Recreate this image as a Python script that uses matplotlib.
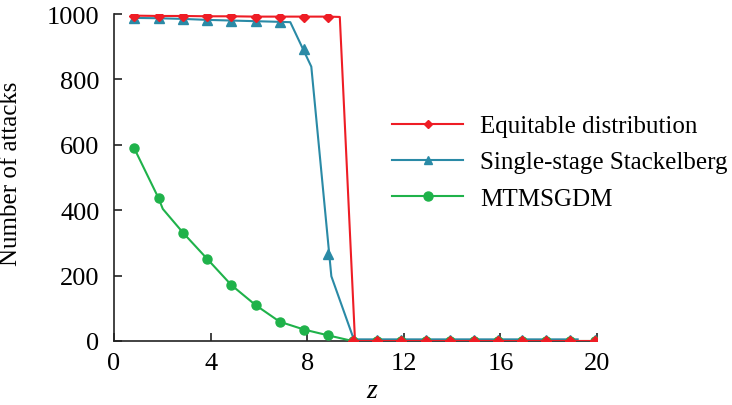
import numpy as np
import matplotlib
matplotlib.use("Agg")
import matplotlib.pyplot as plt
from matplotlib.lines import Line2D

plt.rcParams['font.family'] = ['Liberation Serif', 'DejaVu Serif']
plt.rcParams['mathtext.fontset'] = 'custom'
plt.rcParams['mathtext.it'] = 'Liberation Serif:italic'

# marker positions along z
marker_z = [0.84, 1.85, 2.86, 3.86, 4.86, 5.86, 6.86, 7.87, 8.88, 9.88,
            10.89, 11.89, 12.9, 13.9, 14.9, 15.9, 16.9, 17.9, 18.9, 19.9]

# Equitable distribution
equit_marks = [995, 994, 994, 993, 993, 992, 992, 992, 992, 0,
               0, 0, 0, 0, 0, 0, 0, 0, 0, 0]
equit_line_z = [0.84, 1.85, 2.86, 3.86, 4.86, 5.86, 6.86, 7.87, 8.88, 9.35, 9.98, 19.9]
equit_line_v = [995, 994, 994, 993, 993, 992, 992, 992, 992, 991, 0, 0]

# Single-stage Stackelberg
stack_marks = [988, 987, 985, 982, 980, 978, 976, 893, 266, 4,
               4, 4, 4, 4, 4, 4, 4, 4, 4, 4]
stack_line_z = [0.84, 1.85, 2.86, 3.86, 4.86, 5.86, 6.86, 7.3, 8.17, 9.0, 9.93, 19.2]
stack_line_v = [988, 987, 985, 982, 980, 978, 976, 975, 839, 198, 5, 5]

# MTMSGDM
mtm_marks = [589, 436, 331, 251, 171, 110, 59, 35, 17, 0,
             0, 0, 0, 0, 0, 0, 0, 0, 0, 0]
mtm_line_z = [0.84, 1.85, 2.02, 2.86, 3.86, 4.86, 5.86, 6.86, 7.87, 8.88, 9.88, 19.9]
mtm_line_v = [589, 436, 404, 331, 251, 171, 110, 59, 35, 17, 0, 0]

c_red = '#ee1d25'
c_blue = '#2a8aa6'
c_green = '#1fb24a'

fig = plt.figure(figsize=(7.32, 4.06), dpi=100)
ax = fig.add_axes([114/732, 1 - 342/406, (597 - 114)/732, (342 - 15)/406])

lw = 1.5
# blue first, green, red on top
ax.plot(stack_line_z, stack_line_v, color=c_blue, lw=lw, zorder=2)
ax.plot(marker_z, stack_marks, ls='none', marker='^', ms=6.5, color=c_blue, zorder=2)
ax.plot(mtm_line_z, mtm_line_v, color=c_green, lw=lw, zorder=3)
ax.plot(marker_z, mtm_marks, ls='none', marker='o', ms=6.5, color=c_green, zorder=3)
ax.plot(equit_line_z, equit_line_v, color=c_red, lw=lw, zorder=4)
ax.plot(marker_z, equit_marks, ls='none', marker='D', ms=5.5, color=c_red, zorder=4)

ax.set_xlim(0, 20)
ax.set_ylim(0, 1000)
ax.set_xticks([0, 4, 8, 12, 16, 20])
ax.set_yticks([0, 200, 400, 600, 800, 1000])
for s in ['top', 'right']:
    ax.spines[s].set_visible(False)
for s in ['left', 'bottom']:
    ax.spines[s].set_linewidth(1.2)
    ax.spines[s].set_color('#222222')
ax.tick_params(direction='in', length=6, width=1.2, labelsize=19, color='#222222')
ax.tick_params(axis='y', pad=10.5)
ax.tick_params(axis='x', pad=8)

ax.set_ylabel('Number of attacks', fontsize=18)
ax.yaxis.set_label_coords(-0.19, 0.514)
ax.set_xlabel('$z$', fontsize=20)
ax.xaxis.set_label_coords(0.534, -0.112)

handles = [
    Line2D([], [], color=c_red, lw=lw, marker='D', ms=4),
    Line2D([], [], color=c_blue, lw=lw, marker='^', ms=6),
    Line2D([], [], color=c_green, lw=lw, marker='o', ms=6.5),
]
labels = ['Equitable distribution', 'Single-stage Stackelberg', 'MTMSGDM']
fig.legend(handles, labels, loc='upper left', bbox_to_anchor=(392/732, 1 - 116/406),
           frameon=False, fontsize=18, handlelength=2.84, handletextpad=0.68,
           labelspacing=0.54, borderaxespad=0, borderpad=0)

fig.savefig('out.png', dpi=100)
